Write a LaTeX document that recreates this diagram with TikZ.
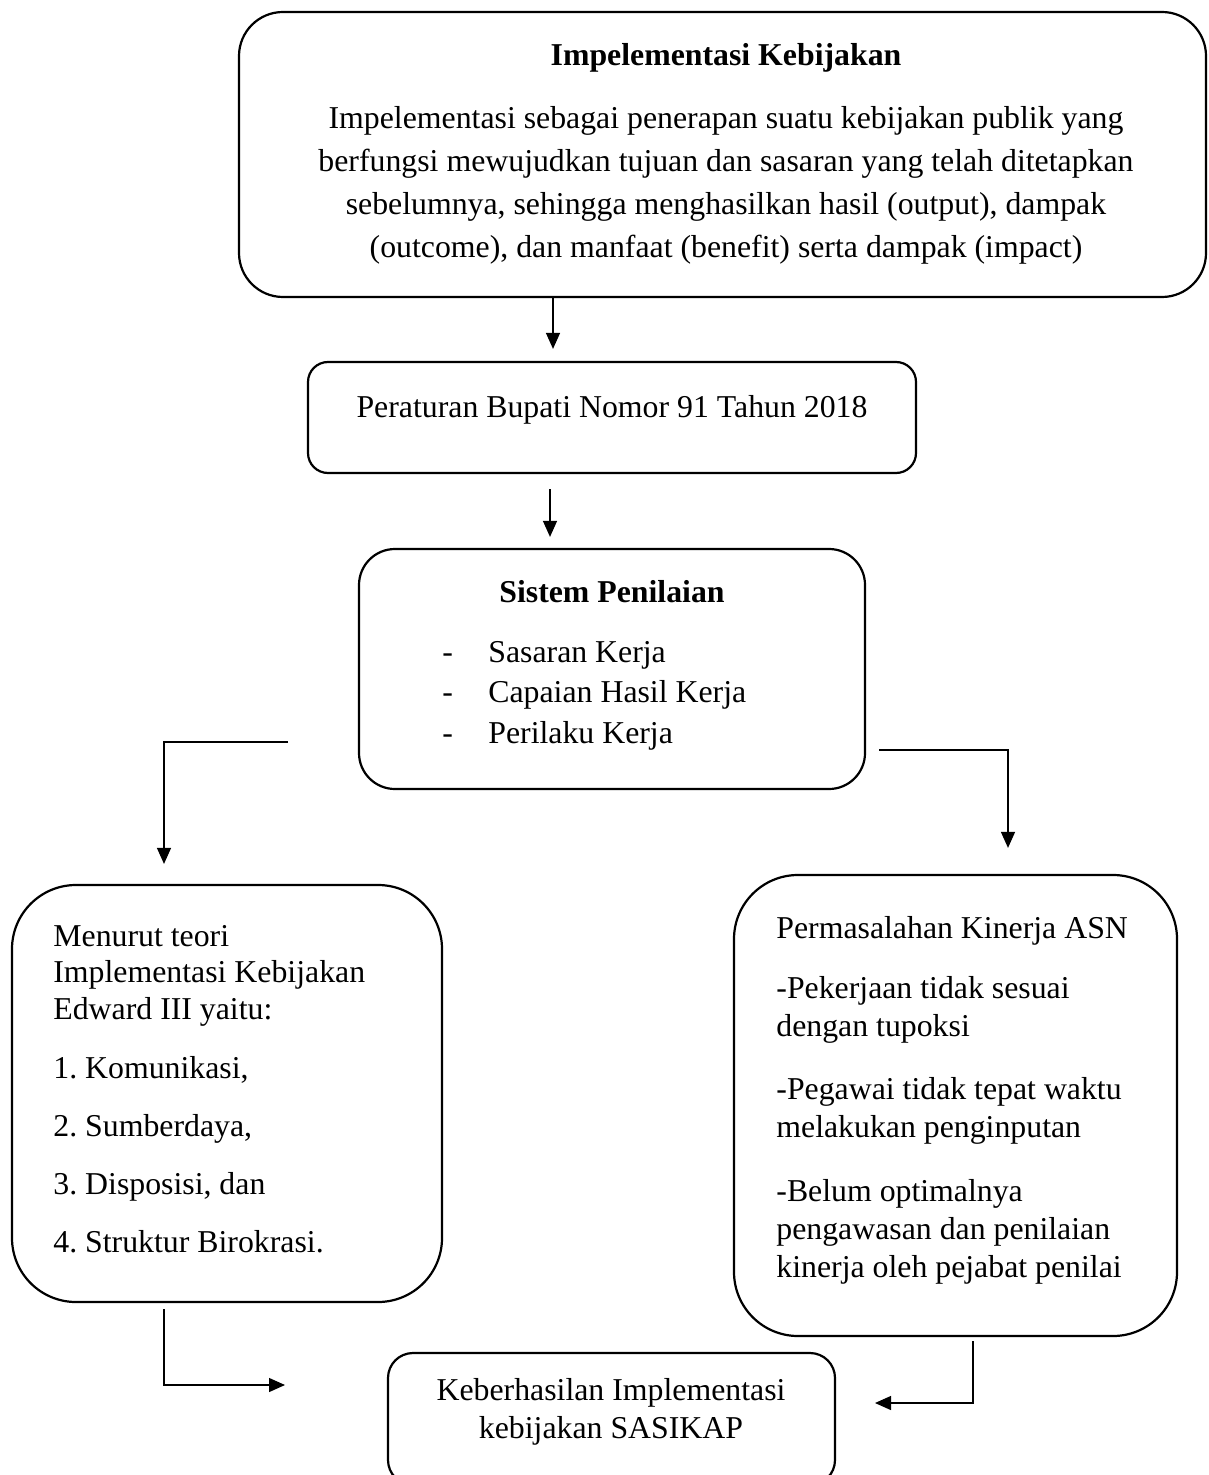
\documentclass[tikz,border=0pt]{standalone}
\usepackage{fontspec}
\setmainfont{Liberation Serif}
\usetikzlibrary{positioning, arrows.meta}
\frenchspacing

\begin{document}
\begin{tikzpicture}[
    x=0.5pt, y=-0.5pt,
    box/.style = {draw, line width=1.1pt, rounded corners=#1, inner sep=0pt},
    box/.default = 16pt,
    txt/.style = {inner sep=0pt, font=\fontsize{15.9}{19}\selectfont},
    arrow/.style = {line width=0.65pt, -{Triangle[length=8pt, width=7pt]}},
  ]
\useasboundingbox (0,0) rectangle (1208,1475);

% boxes
\node[box=22pt, minimum width=483.5pt, minimum height=142.5pt] (impl) at (722.5,154.5) {};
\node[txt, align=center, anchor=north, font=\fontsize{15.9}{21.5}\selectfont] (implTxt) at (726,43)
    {\textbf{Impelementasi Kebijakan}\\[10pt]
     Impelementasi sebagai penerapan suatu kebijakan publik yang\\
     berfungsi mewujudkan tujuan dan sasaran yang telah ditetapkan\\
     sebelumnya, sehingga menghasilkan hasil (output), dampak\\
     (outcome), dan manfaat (benefit) serta dampak (impact)};

\node[box=10pt, minimum width=304pt, minimum height=55.5pt] (per) at (612,417.5) {};
\node[txt, anchor=base] (perTxt) at (612,418) {Peraturan Bupati Nomor 91 Tahun 2018};

\node[box=18pt, minimum width=253pt, minimum height=120pt] (sis) at (612,669) {};
\node[txt, anchor=base, font=\bfseries\fontsize{15.9}{19}\selectfont] (sisHead) at (612,602) {Sistem Penilaian};
\node[txt, align=left, anchor=north west, font=\fontsize{15.9}{20.25}\selectfont] (sisList) at (442,641)
    {\makebox[23pt][l]{-}Sasaran Kerja\\
     \makebox[23pt][l]{-}Capaian Hasil Kerja\\
     \makebox[23pt][l]{-}Perilaku Kerja};

\node[box=32pt, minimum width=215pt, minimum height=208.5pt] (teori) at (227,1093.5) {};
\node[txt, align=left, anchor=north west, font=\fontsize{15.9}{18.25}\selectfont] (teoriTxt) at (53,925)
    {Menurut teori\\
     Implementasi Kebijakan\\
     Edward III yaitu:\\[11.25pt]
     1. Komunikasi,\\[10.75pt]
     2. Sumberdaya,\\[10.75pt]
     3. Disposisi, dan\\[10.75pt]
     4. Struktur Birokrasi.};

\node[box=32pt, minimum width=221.5pt, minimum height=230.5pt] (masalah) at (955.5,1105.5) {};
\node[txt, align=left, anchor=north west] (masalahTxt) at (776,916)
    {Permasalahan Kinerja ASN\\[11pt]
     -Pekerjaan tidak sesuai\\
     dengan tupoksi\\[12.5pt]
     -Pegawai tidak tepat waktu\\
     melakukan penginputan\\[13pt]
     -Belum optimalnya\\
     pengawasan dan penilaian\\
     kinerja oleh pejabat penilai};

\node[box=12.5pt, minimum width=223.5pt, minimum height=66pt] (hasil) at (611.5,1419) {};
\node[txt, align=center, anchor=north] (hasilTxt) at (611,1378)
    {Keberhasilan Implementasi\\
     kebijakan SASIKAP};

% connectors
\coordinate (x1) at (553,0);
\coordinate (x2) at (550,0);
\coordinate (x3) at (164,0);
\coordinate (x4) at (1008,0);
\coordinate (x5) at (973,0);
\coordinate (lc) at (288,742);
\coordinate (rc) at (879,750);
\coordinate (bl) at (285,1385);
\coordinate (br) at (875,1403);

\draw[arrow, shorten >=6pt] (x1 |- impl.south) -- (x1 |- per.north);
\draw[arrow, shorten <=7.5pt, shorten >=5.5pt] (x2 |- per.south) -- (x2 |- sis.north);
\draw[arrow, shorten >=10pt] (lc) -| (x3 |- teori.north);
\draw[arrow, shorten >=13pt] (rc) -| (x4 |- masalah.north);
\draw[arrow, shorten <=3pt] (x3 |- teori.south) |- (bl);
\draw[arrow, shorten <=2pt] (x5 |- masalah.south) |- (br);
\end{tikzpicture}
\end{document}
